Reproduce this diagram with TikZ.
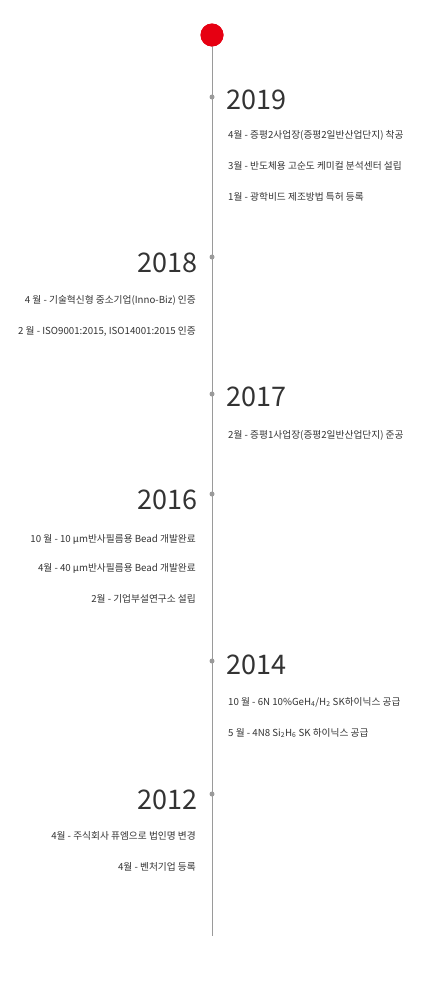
\documentclass[tikz,border=0pt]{standalone}
\usepackage{fontspec}
\setmainfont{Noto Sans CJK KR}
\definecolor{tred}{HTML}{E60012}
\definecolor{tline}{HTML}{9A9A9A}
\definecolor{ttext}{HTML}{333333}
\begin{document}
\begin{tikzpicture}[x=1pt,y=-1pt,
  year/.style={font=\fontsize{27}{27}\selectfont, text=ttext, inner sep=0pt},
  item/.style={font=\fontsize{9.7}{10}\selectfont, text=ttext, inner sep=0pt},
  dot/.style={circle, fill=tline, inner sep=0pt, minimum size=5pt},
]
\useasboundingbox (0,0) rectangle (425,1001);
\node[circle, fill=tred, inner sep=0pt, minimum size=23pt] (top) at (212,35) {};
\coordinate (bottom) at (212,936);
\draw[tline, line width=1pt] (top.center) -- (bottom);
\fill[tred] (212,35) circle (11.5);

% 2019
\node[dot] (d19) at (212,97) {};
\node[year, anchor=west] (y19) at (226,100) {2019};
\node[item, anchor=west] (i19a) at (228,135) {4월 - 증평2사업장(증평2일반산업단지) 착공};
\node[item, anchor=west] (i19b) at (228,166) {3월 - 반도체용 고순도 케미컬 분석센터 설립};
\node[item, anchor=west] (i19c) at (228,197) {1월 - 광학비드 제조방법 특허 등록};

% 2018
\node[dot] (d18) at (212,257) {};
\node[year, anchor=east] (y18) at (198,263) {2018};
\node[item, anchor=east] (i18a) at (196,300) {4 월 - 기술혁신형 중소기업(Inno-Biz) 인증};
\node[item, anchor=east] (i18b) at (196,331) {2 월 - ISO9001:2015, ISO14001:2015 인증};

% 2017
\node[dot] (d17) at (212,394) {};
\node[year, anchor=west] (y17) at (226,397) {2017};
\node[item, anchor=west] (i17a) at (228,435) {2월 - 증평1사업장(증평2일반산업단지) 준공};

% 2016
\node[dot] (d16) at (212,494) {};
\node[year, anchor=east] (y16) at (198,500) {2016};
\node[item, anchor=east] (i16a) at (196,539) {10 월 - 10 µm반사필름용 Bead 개발완료};
\node[item, anchor=east] (i16b) at (196,568) {4월 - 40 µm반사필름용 Bead 개발완료};
\node[item, anchor=east] (i16c) at (196,599) {2월 - 기업부설연구소 설립};

% 2014
\node[dot] (d14) at (212,661) {};
\node[year, anchor=west] (y14) at (226,665) {2014};
\node[item, anchor=west] (i14a) at (228,702) {10 월 - 6N 10\%GeH\textsubscript{4}/H\textsubscript{2} SK하이닉스 공급};
\node[item, anchor=west] (i14b) at (228,733) {5 월 - 4N8 Si\textsubscript{2}H\textsubscript{6} SK 하이닉스 공급};

% 2012
\node[dot] (d12) at (212,794) {};
\node[year, anchor=east] (y12) at (198,800) {2012};
\node[item, anchor=east] (i12a) at (196,836) {4월 - 주식회사 퓨엠으로 법인명 변경};
\node[item, anchor=east] (i12b) at (196,867) {4월 - 벤처기업 등록};
\end{tikzpicture}
\end{document}
